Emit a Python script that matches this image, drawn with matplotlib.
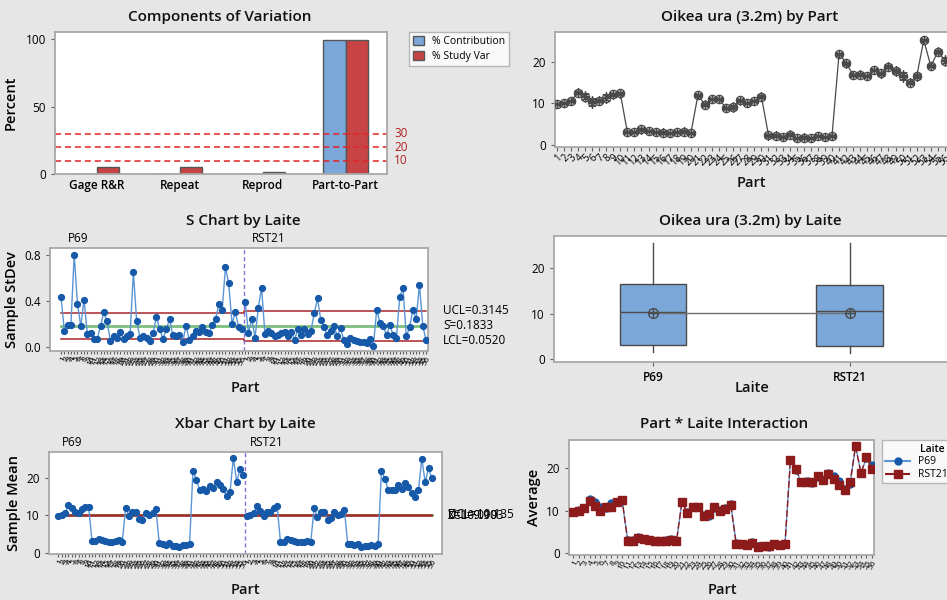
import matplotlib
matplotlib.use('Agg')
import matplotlib.pyplot as plt
import matplotlib.transforms as mtransforms
from matplotlib.patches import Patch
from matplotlib.lines import Line2D
import numpy as np

plt.rcParams['font.family'] = ['Open Sans', 'DejaVu Sans']

# ---- data ----
components = ['Gage R&R', 'Repeat', 'Reprod', 'Part-to-Part']
pct_contribution = [0.3, 0.3, 0.05, 99.7]
pct_study_var = [5.3, 5.2, 1.5, 99.9]
ref_lines = [10, 20, 30]

parts = list(range(1, 57))
laites = ['P69', 'RST21']

mean_p69 = [9.8, 10.1, 10.6, 12.7, 12.0, 10.8, 10.6, 11.8, 12.2, 12.3,
            3.2, 3.2, 3.8, 3.3, 3.2, 3.0, 2.9, 3.1, 3.3, 2.8,
            12.0, 9.8, 11.0, 11.0, 9.0, 8.9, 10.6, 10.1, 10.7, 11.7,
            2.5, 2.3, 2.0, 2.6, 1.7, 1.8, 1.6, 2.1, 2.0, 2.2,
            22.0, 19.6, 16.8, 17.0, 16.6, 18.0, 17.3, 18.9, 18.1, 17.0,
            15.1, 16.3, 25.3, 19.0, 22.4, 20.7]
mean_rst21 = [9.8, 10.0, 10.6, 12.4, 11.2, 9.9, 10.8, 11.0, 12.1, 12.6,
              3.0, 3.0, 3.7, 3.3, 3.1, 2.9, 2.8, 3.0, 3.1, 2.8,
              12.0, 9.6, 11.0, 11.0, 8.8, 9.3, 10.9, 10.0, 10.5, 11.5,
              2.2, 2.2, 2.0, 2.4, 1.6, 1.7, 1.7, 2.1, 1.9, 2.2,
              22.0, 19.8, 16.9, 16.9, 16.7, 18.1, 17.2, 18.8, 17.5, 16.0,
              14.8, 16.8, 25.2, 18.9, 22.6, 19.9]

s_p69 = [0.43, 0.14, 0.19, 0.19, 0.80, 0.37, 0.18, 0.41, 0.11, 0.12,
         0.07, 0.07, 0.18, 0.30, 0.22, 0.05, 0.09, 0.08, 0.13, 0.07,
         0.09, 0.11, 0.65, 0.22, 0.08, 0.09, 0.08, 0.05, 0.12, 0.26,
         0.15, 0.07, 0.15, 0.24, 0.10, 0.09, 0.10, 0.04, 0.18, 0.06,
         0.09, 0.14, 0.13, 0.17, 0.13, 0.12, 0.19, 0.24, 0.37, 0.32,
         0.69, 0.55, 0.20, 0.30, 0.17, 0.15]
s_rst21 = [0.39, 0.12, 0.24, 0.08, 0.34, 0.51, 0.11, 0.14, 0.12, 0.09,
           0.10, 0.12, 0.13, 0.09, 0.13, 0.06, 0.15, 0.10, 0.15, 0.11,
           0.14, 0.29, 0.42, 0.23, 0.17, 0.10, 0.14, 0.18, 0.09, 0.16,
           0.06, 0.02, 0.08, 0.06, 0.05, 0.04, 0.04, 0.03, 0.07, 0.01,
           0.32, 0.21, 0.18, 0.10, 0.19, 0.10, 0.08, 0.43, 0.51, 0.09,
           0.17, 0.32, 0.24, 0.54, 0.18, 0.06]

s_ucl = [0.296, 0.3145]
s_center = 0.1833
s_lcl = [0.071, 0.0520]
xbar_ucl, xbar_center, xbar_lcl = 10.135, 10.019, 9.903

box_q1 = [3.2, 3.0]
box_med = [10.5, 10.7]
box_q3 = [16.5, 16.3]
box_lo = [1.5, 1.4]
box_hi = [25.5, 25.5]
box_mean = [10.1, 10.1]

# ---- styling ----
BG = '#E6E6E6'
BLUE = '#1559A8'
BLUE_LINE = '#5A95D5'
RED_LIM = '#A8262A'
GREEN = '#7DBE7D'
GRAY = '#4A4A4A'

W, H = 947, 600
fig = plt.figure(figsize=(W / 100, H / 100), dpi=100, facecolor=BG)


def px_axes(l, t, r, b):
    ax = fig.add_axes([l / W, 1 - b / H, (r - l) / W, (b - t) / H])
    for sp in ax.spines.values():
        sp.set_color('#A8A8A8')
        sp.set_linewidth(1.3)
    ax.tick_params(labelsize=8.5, length=3, color='#606060')
    return ax


def title(x, y, s):
    fig.text(x / W, 1 - y / H, s, ha='center', va='center', fontsize=11,
             fontweight='semibold', color='#111111')


def fig_label(x, y, s, size=10.5):
    fig.text(x / W, 1 - y / H, s, ha='center', va='center', fontsize=size,
             fontweight='semibold', color='#111111')


# Panel 1: components of variation
ax1 = px_axes(55, 32, 387, 174)
xc = np.arange(len(components))
ax1.bar(xc - 0.135, pct_contribution, 0.27, color='#7BA7D9', edgecolor='#555555', lw=1)
ax1.bar(xc + 0.135, pct_study_var, 0.27, color='#C84343', edgecolor='#555555', lw=1)
tr1 = mtransforms.blended_transform_factory(ax1.transAxes, ax1.transData)
for r in ref_lines:
    ax1.axhline(r, color='#E02525', ls=(0, (4, 2.5)), lw=1.1)
    ax1.text(1.022, r, str(r), transform=tr1, color='#B02020', fontsize=8.5, va='center')
ax1.set_xlim(-0.5, 3.5)
ax1.set_ylim(0, 105.5)
ax1.set_yticks([0, 50, 100])
ax1.set_xticks(xc)
ax1.set_xticklabels(components, fontweight='semibold')
ax1.tick_params(axis='x', length=0)
ax1.set_ylabel('Percent', fontsize=10.5, fontweight='semibold', labelpad=6)
ax1.legend(handles=[Patch(facecolor='#7BA7D9', edgecolor='#555555', label='% Contribution'),
                    Patch(facecolor='#C84343', edgecolor='#555555', label='% Study Var')],
           loc='upper left', bbox_to_anchor=(409 / W, 1 - 32 / H), bbox_transform=fig.transFigure,
           fontsize=7.5, frameon=True, fancybox=False, edgecolor='#A8A8A8', borderpad=0.4,
           handlelength=1.0, handleheight=1.0, labelspacing=0.3, borderaxespad=0)
title(220, 17, 'Components of Variation')

# Panel 2: response by part
ax2 = px_axes(555, 32, 952, 147)
avg_part = (np.array(mean_p69) + np.array(mean_rst21)) / 2
ax2.plot(parts, avg_part, color=GRAY, lw=0.9, zorder=2)
for vals in (mean_p69, mean_rst21):
    ax2.plot(parts, vals, ls='none', marker=(6, 2, 0), ms=6, mec=GRAY, mew=0.9, zorder=3)
ax2.plot(parts, avg_part, ls='none', marker='o', ms=6, mfc='none', mec=GRAY, mew=0.9, zorder=4)
ax2.plot(parts, avg_part, ls='none', marker='+', ms=6, mec=GRAY, mew=0.9, zorder=4)
ax2.set_xlim(0.75, 57.0)
ax2.set_ylim(-0.5, 27.2)
ax2.set_yticks([0, 10, 20])
ax2.set_xticks(parts)
ax2.set_xticklabels([str(p) for p in parts], rotation=45, fontsize=7, ha='right', rotation_mode='anchor')
ax2.tick_params(axis='x', pad=1)
title(750, 17, 'Oikea ura (3.2m) by Part')
fig_label(751, 183, 'Part')

# Panel 3: S chart
ax3 = px_axes(50, 248, 428, 351)
x1 = np.arange(1, 57)
x2 = np.arange(57, 113)
for xs, ys in ((x1, s_p69), (x2, s_rst21)):
    ax3.plot(xs, ys, color=BLUE_LINE, lw=1, zorder=3)
    ax3.plot(xs, ys, ls='none', marker='o', ms=4.2, color=BLUE, zorder=4)
ax3.plot([1, 56.5, 56.5, 112], [s_ucl[0], s_ucl[0], s_ucl[1], s_ucl[1]], color=RED_LIM, lw=1.1, zorder=2)
ax3.plot([1, 56.5, 56.5, 112], [s_lcl[0], s_lcl[0], s_lcl[1], s_lcl[1]], color=RED_LIM, lw=1.1, zorder=2)
ax3.plot([1, 112], [s_center, s_center], color=GREEN, lw=2, zorder=2)
ax3.axvline(56.5, color='#8C70D8', ls=(0, (3, 2)), lw=1)
ax3.set_xlim(-2.36, 112.6)
ax3.set_ylim(-0.037, 0.858)
ax3.set_yticks([0.0, 0.4, 0.8])
ax3.set_yticklabels(['0.0', '0.4', '0.8'])
ax3.set_xticks(np.arange(1, 113))
ax3.set_xticklabels([str(p) for p in parts] * 2, rotation=60, fontsize=6, ha='right', rotation_mode='anchor')
ax3.tick_params(axis='x', length=2, pad=1)
ax3.set_ylabel('Sample StDev', fontsize=10.5, fontweight='semibold', labelpad=4)
tr3 = mtransforms.blended_transform_factory(ax3.transData, ax3.transAxes)
ax3.text(3.0, 1.03, laites[0], transform=tr3, fontsize=8.5, va='bottom')
ax3.text(59.0, 1.03, laites[1], transform=tr3, fontsize=8.5, va='bottom')
trf3 = mtransforms.blended_transform_factory(fig.transFigure, ax3.transData)
ax3.text(443 / W, s_ucl[1], 'UCL=%.4f' % s_ucl[1], transform=trf3, fontsize=8.5, va='center')
ax3.text(443 / W, s_center, 'S\u0304=%.4f' % s_center, transform=trf3, fontsize=8.5, va='center')
ax3.text(443 / W, s_lcl[1], 'LCL=%.4f' % s_lcl[1], transform=trf3, fontsize=8.5, va='center')
title(243, 221, 'S Chart by Laite')
fig_label(245, 388, 'Part')

# Panel 4: box plot by laite
ax4 = px_axes(554, 236, 952, 362)
stats = [dict(q1=box_q1[i], med=box_med[i], q3=box_q3[i], whislo=box_lo[i], whishi=box_hi[i],
              label=laites[i]) for i in range(2)]
ax4.bxp(stats, positions=[1, 2], widths=0.34, patch_artist=True, showcaps=False, showfliers=False,
        boxprops=dict(facecolor='#7BA7D9', edgecolor=GRAY, lw=1),
        medianprops=dict(color=GRAY, lw=1), whiskerprops=dict(color=GRAY, lw=1))
ax4.plot([1, 2], box_mean, color='#707070', lw=1, zorder=3)
ax4.plot([1, 2], box_mean, ls='none', marker='o', ms=7, mfc='none', mec=GRAY, mew=1, zorder=4)
ax4.plot([1, 2], box_mean, ls='none', marker='+', ms=7, mec=GRAY, mew=1, zorder=4)
ax4.set_xlim(0.497, 2.52)
ax4.set_ylim(-0.6, 27.1)
ax4.set_yticks([0, 10, 20])
ax4.set_xticks([1, 2])
ax4.set_xticklabels(laites, fontweight='semibold')
title(750, 221, 'Oikea ura (3.2m) by Laite')
fig_label(752, 388, 'Laite')

# Panel 5: Xbar chart
ax5 = px_axes(49, 452, 442, 554)
for xs, ys in ((x1, mean_p69), (x2, mean_rst21)):
    ax5.plot(xs, ys, color=BLUE_LINE, lw=1, zorder=3)
    ax5.plot(xs, ys, ls='none', marker='o', ms=4.2, color=BLUE, zorder=4)
ax5.plot([1, 112], [xbar_center, xbar_center], color=GREEN, lw=2, zorder=2)
ax5.plot([1, 112], [xbar_ucl, xbar_ucl], color=RED_LIM, lw=1.1, zorder=2)
ax5.plot([1, 112], [xbar_lcl, xbar_lcl], color=RED_LIM, lw=1.1, zorder=2)
ax5.axvline(56.5, color='#8C70D8', ls=(0, (3, 2)), lw=1)
ax5.set_xlim(-1.77, 115)
ax5.set_ylim(-0.35, 27.0)
ax5.set_yticks([0, 10, 20])
ax5.set_xticks(np.arange(1, 113))
ax5.set_xticklabels([str(p) for p in parts] * 2, rotation=60, fontsize=6, ha='right', rotation_mode='anchor')
ax5.tick_params(axis='x', length=2, pad=1)
ax5.set_ylabel('Sample Mean', fontsize=10.5, fontweight='semibold', labelpad=4)
tr5 = mtransforms.blended_transform_factory(ax5.transData, ax5.transAxes)
ax5.text(2.0, 1.03, laites[0], transform=tr5, fontsize=8.5, va='bottom')
ax5.text(58.0, 1.03, laites[1], transform=tr5, fontsize=8.5, va='bottom')
# the three Xbar limit labels sit on top of each other, as in the reference
trf5 = mtransforms.blended_transform_factory(fig.transFigure, ax5.transData)
ax5.text(448 / W, xbar_ucl, 'UCL=%.3f' % xbar_ucl, transform=trf5, fontsize=8.5, va='center')
ax5.text(448 / W, xbar_center, 'X\u033f=%.3f' % xbar_center, transform=trf5, fontsize=8.5, va='center')
ax5.text(448 / W, xbar_lcl, 'LCL=%.3f' % xbar_lcl, transform=trf5, fontsize=8.5, va='center')
title(245, 424, 'Xbar Chart by Laite')
fig_label(245, 590, 'Part')

# Panel 6: interaction
ax6 = px_axes(569, 440, 874, 555)
ax6.plot(parts, mean_p69, color=BLUE_LINE, lw=1, marker='o', ms=5, mfc=BLUE, mec=BLUE, zorder=3)
ax6.plot(parts, mean_rst21, color='#8E1B1B', lw=1, ls=(0, (5, 2)), marker='s', ms=6,
         mfc='#8E1B1B', mec='#8E1B1B', zorder=4)
ax6.set_xlim(0.2, 56.4)
ax6.set_ylim(-0.4, 26.7)
ax6.set_yticks([0, 10, 20])
ax6.set_xticks(parts)
ax6.set_xticklabels([str(p) for p in parts], rotation=60, fontsize=6, ha='right', rotation_mode='anchor')
ax6.tick_params(axis='x', length=2, pad=1)
ax6.set_ylabel('Average', fontsize=10.5, fontweight='semibold', labelpad=4)
ax6.legend(handles=[Line2D([], [], color=BLUE_LINE, marker='o', mfc=BLUE, mec=BLUE, ms=5, label='P69'),
                    Line2D([], [], color='#8E1B1B', ls=(0, (5, 2)), marker='s', ms=6, label='RST21')],
           title=' ', loc='upper left', bbox_to_anchor=(882 / W, 1 - 440 / H),
           bbox_transform=fig.transFigure, fontsize=7.5, title_fontsize=7.5, frameon=True,
           fancybox=False, edgecolor='#A8A8A8', borderaxespad=0, handlelength=2.4,
           labelspacing=0.2, borderpad=0.3)
fig.text(920 / W, 1 - 449 / H, 'Laite', fontsize=7.5, fontweight='semibold', va='center', ha='left')
title(724, 424, 'Part * Laite Interaction')
fig_label(722, 590, 'Part')

fig.savefig('out.png', dpi=100, facecolor=BG)
